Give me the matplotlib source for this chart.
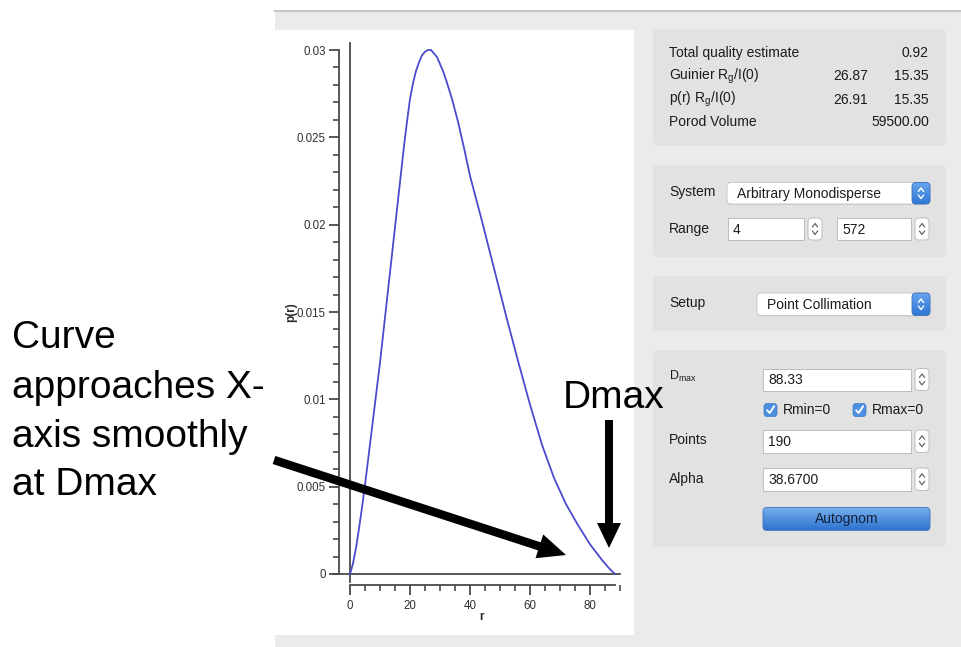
import matplotlib
matplotlib.use("Agg")
import matplotlib.pyplot as plt
import numpy as np
from matplotlib.patches import FancyBboxPatch, Rectangle, FancyArrow
from matplotlib.ticker import FixedLocator, FixedFormatter, MultipleLocator

plt.rcParams['font.family'] = ['Liberation Sans', 'DejaVu Sans']
plt.rcParams['mathtext.default'] = 'regular'

# ---------------- data: pair distance distribution p(r) ----------------
r_vals = [0, 1, 2, 3, 4, 5, 6, 7, 8, 10, 12, 14, 16, 18, 19, 20, 21, 22, 23,
          24, 25, 26, 27, 28, 29, 30, 31, 32, 34, 36, 38, 40, 44, 48, 52, 56,
          60, 64, 68, 72, 76, 80, 84, 86.5, 88.33]
p_vals = [0, 0.0006, 0.0015, 0.0026, 0.0038, 0.0051, 0.0065, 0.0079, 0.0093,
          0.0121, 0.0152, 0.0183, 0.0214, 0.0245, 0.0259, 0.0272, 0.0281, 0.0288,
          0.0293, 0.0297, 0.0299, 0.0300, 0.0300, 0.0298, 0.0296, 0.0292, 0.0288,
          0.0283, 0.0272, 0.0259, 0.0244, 0.0228, 0.0202, 0.0175, 0.0148, 0.0122,
          0.0097, 0.0074, 0.0055, 0.0040, 0.0028, 0.0017, 0.0008, 0.0003, 0]
d_max = 88.33

y_ticks = [0, 0.005, 0.01, 0.015, 0.02, 0.025, 0.03]
y_tick_labels = ['0', '0.005', '0.01', '0.015', '0.02', '0.025', '0.03']
x_ticks = [0, 20, 40, 60, 80]
x_tick_labels = ['0', '20', '40', '60', '80']

# ---------------- side panel contents ----------------
stats_labels = ['Total quality estimate', 'Guinier $R_g$/I(0)',
                'p(r) $R_g$/I(0)', 'Porod Volume']
stats_col1 = ['', '26.87', '26.91', '']
stats_col2 = ['0.92', '15.35', '15.35', '59500.00']
system_choice = 'Arbitrary Monodisperse'
range_values = ['4', '572']
setup_choice = 'Point Collimation'
dmax_text = '88.33'
points_text = '190'
alpha_text = '38.6700'
check_labels = ['Rmin=0', 'Rmax=0']

note_lines = ['Curve', 'approaches X-', 'axis smoothly', 'at Dmax']

W, H = 962, 647
fig = plt.figure(figsize=(W / 100, H / 100), dpi=100)


def px_axes(label, z):
    a = fig.add_axes([0, 0, 1, 1], label=label, zorder=z)
    a.set_xlim(0, W)
    a.set_ylim(H, 0)
    a.set_autoscale_on(False)
    a.axis('off')
    return a


ui = px_axes('ui', 0)

TXT = '#1c1c1c'
PANEL = '#ebebeb'
BOX = '#e2e2e2'

# window background
ui.add_patch(Rectangle((275, 11), W - 275, H - 11, fc=PANEL, ec='none', zorder=0))
ui.plot([275, W], [10.5, 10.5], color='#c6c6c6', lw=1.5, zorder=1)
ui.add_patch(Rectangle((268, 30), 634 - 268, 635 - 30, fc='white', ec='none', zorder=0.5))


def rbox(x0, y0, x1, y1, fc, ec='none', lw=0.0, r=5, z=1):
    p = FancyBboxPatch((x0, y0), x1 - x0, y1 - y0,
                       boxstyle=f'round,pad=0,rounding_size={r}',
                       fc=fc, ec=ec, lw=lw, zorder=z)
    ui.add_patch(p)
    return p


def gradient_box(x0, y0, x1, y1, top, bottom, r=4, z=3, ec='#3a6fb8'):
    p = rbox(x0, y0, x1, y1, fc='none', ec=ec, lw=0.6, r=r, z=z + 0.1)
    t = np.array(matplotlib.colors.to_rgb(top))
    b = np.array(matplotlib.colors.to_rgb(bottom))
    f = np.linspace(0, 1, 32)[:, None, None]
    img = t * (1 - f) + b * f
    im = ui.imshow(img, extent=(x0, x1, y1, y0), origin='upper',
                   aspect='auto', zorder=z, interpolation='bilinear')
    im.set_clip_path(p)


def chevrons(cx, cy, color, half=3.0, gap=3.5, h=2.5, lw=1.1, z=5):
    ui.plot([cx - half, cx, cx + half], [cy - gap + h, cy - gap - h + 0.5, cy - gap + h],
            color=color, lw=lw, zorder=z, solid_capstyle='round')
    ui.plot([cx - half, cx, cx + half], [cy + gap - h, cy + gap + h - 0.5, cy + gap - h],
            color=color, lw=lw, zorder=z, solid_capstyle='round')


def field(x0, y0, x1, y1, text):
    ui.add_patch(Rectangle((x0, y0 + 1), x1 - x0, y1 - y0, fc='#d4d4d4', ec='none', zorder=2))
    ui.add_patch(Rectangle((x0, y0), x1 - x0, y1 - y0, fc='white', ec='#bdbdbd', lw=0.7, zorder=2.1))
    ui.text(x0 + 5, (y0 + y1) / 2 + 0.5, text, fontsize=10, color=TXT, va='center', ha='left', zorder=3)


def stepper(x0, y0, x1, y1):
    rbox(x0, y0, x1, y1, fc='white', ec='#bdbdbd', lw=0.7, r=4, z=2.2)
    chevrons((x0 + x1) / 2, (y0 + y1) / 2, '#666666', half=2.6, gap=4.0, h=2.0, lw=0.9)


def popup(x0, y0, x1, y1, text):
    rbox(x0, y0 + 1, x1, y1 + 1, fc='#cfcfcf', r=4, z=2)
    rbox(x0, y0, x1, y1, fc='white', ec='#c4c4c4', lw=0.6, r=4, z=2.1)
    gradient_box(x1 - 18, y0, x1, y1, '#68a6ee', '#2f78d6', r=4, z=3)
    chevrons(x1 - 9, (y0 + y1) / 2, 'white', half=2.6, gap=3.8, h=2.0, lw=1.0, z=6)
    ui.text(x0 + 10, (y0 + y1) / 2 + 0.5, text, fontsize=10, color=TXT, va='center', ha='left', zorder=4)


# --- box 1: quality summary
rbox(653, 29, 946, 146, BOX, r=5)
row_y = [53, 76, 99.5, 122.5]
for lab, c1, c2, yy in zip(stats_labels, stats_col1, stats_col2, row_y):
    ui.text(669, yy, lab, fontsize=10, color=TXT, va='center', ha='left', zorder=3)
    if c1:
        ui.text(868, yy, c1, fontsize=10, color=TXT, va='center', ha='right', zorder=3)
    ui.text(929, yy, c2, fontsize=10, color=TXT, va='center', ha='right', zorder=3)

# --- box 2: system / range
rbox(653, 165, 946, 257, BOX, r=5)
ui.text(669, 192, 'System', fontsize=10, color=TXT, va='center', ha='left', zorder=3)
popup(727, 182.5, 930, 204, system_choice)
ui.text(669, 228.5, 'Range', fontsize=10, color=TXT, va='center', ha='left', zorder=3)
field(728, 218, 804, 240, range_values[0])
stepper(808, 218, 822, 240)
field(837, 218, 911, 240, range_values[1])
stepper(915, 218, 929, 240)

# --- box 3: setup
rbox(653, 276, 946, 331, BOX, r=5)
ui.text(669, 303, 'Setup', fontsize=10, color=TXT, va='center', ha='left', zorder=3)
popup(757, 293, 930, 315.5, setup_choice)

# --- box 4: regularisation parameters
rbox(653, 350, 946, 547, BOX, r=5)
ui.text(669, 376, '$D_{max}$', fontsize=9, color=TXT, va='center', ha='left', zorder=3)
field(763, 368.5, 911, 390.5, dmax_text)
stepper(915, 368.5, 929, 390.5)

for cx, lab in zip([770.5, 859.5], check_labels):
    rbox(cx - 6.5, 403.5, cx + 6.5, 416.5, '#4a8fe0', ec='#3c78c4', lw=0.5, r=3, z=3)
    ui.plot([cx - 3.3, cx - 0.8, cx + 3.6], [410.3, 413.0, 406.2], color='white', lw=1.4,
            zorder=4, solid_capstyle='round', solid_joinstyle='round')
    ui.text(cx + 12, 410.5, lab, fontsize=10, color=TXT, va='center', ha='left', zorder=3)

ui.text(669, 440, 'Points', fontsize=10, color=TXT, va='center', ha='left', zorder=3)
field(763, 430, 911, 452.5, points_text)
stepper(915, 430, 929, 452.5)
ui.text(669, 478.5, 'Alpha', fontsize=10, color=TXT, va='center', ha='left', zorder=3)
field(763, 468, 911, 490.5, alpha_text)
stepper(915, 468, 929, 490.5)

gradient_box(763, 507.5, 930, 530.5, '#78b0ee', '#2f74d0', r=4, z=3)
ui.text(846.5, 519.5, 'Autognom', fontsize=10, color='#10213a', va='center', ha='center', zorder=5)

# ---------------- p(r) plot ----------------
L, R, T, B = 350, 620, 43, 574
ax = fig.add_axes([L / W, (H - B) / H, (R - L) / W, (B - T) / H], zorder=1)
ax.patch.set_alpha(0)
ax.set_xlim(0, (R - L) / 3.0)
ax.set_ylim(0, 0.03 * (B - T) / (B - 50))

AX_C = '#4a4a4a'
for s in ('top', 'right'):
    ax.spines[s].set_visible(False)
ax.spines['left'].set_position(('outward', 8))
ax.spines['left'].set_bounds(0, 0.03)
ax.spines['bottom'].set_position(('outward', 8))
ax.spines['bottom'].set_bounds(0, d_max)
for s in ('left', 'bottom'):
    ax.spines[s].set_color(AX_C)
    ax.spines[s].set_linewidth(1.3)

ax.yaxis.set_major_locator(FixedLocator(y_ticks))
ax.yaxis.set_major_formatter(FixedFormatter(y_tick_labels))
ax.yaxis.set_minor_locator(MultipleLocator(0.001))
ax.xaxis.set_major_locator(FixedLocator(x_ticks))
ax.xaxis.set_major_formatter(FixedFormatter(x_tick_labels))
ax.xaxis.set_minor_locator(MultipleLocator(5))

ax.tick_params(axis='both', which='major', length=7, width=1.3, color=AX_C,
               labelsize=8.3, labelcolor='#303030', pad=2.5)
ax.tick_params(axis='both', which='minor', length=4.5, width=1.2, color=AX_C)
ax.tick_params(axis='x', which='major', pad=4)

# zero lines of the data frame
ytop = ax.get_ylim()[1]
ax.plot([-17 / 3.0, 90], [0, 0], color=AX_C, lw=1.3, clip_on=False, zorder=2)
ax.plot([0, 0], [ytop, -0.03 * 8 / 524], color=AX_C, lw=1.3, clip_on=False, zorder=2)

ax.plot(r_vals, p_vals, color='#4b4bcf', lw=1.3, clip_on=False, zorder=3,
        solid_joinstyle='round')

fig.text(482 / W, 1 - 617 / H, 'r', fontsize=8.5, fontweight='bold', color='#2a2a2a',
         ha='center', va='center')
fig.text(291 / W, 1 - 312 / H, 'p(r)', fontsize=8.5, fontweight='bold', color='#2a2a2a',
         ha='center', va='center', rotation=90)

# ---------------- annotation overlay ----------------
top = px_axes('top', 3)
for line, yb in zip(note_lines, [348, 398, 447, 495]):
    top.text(12, yb, line, fontsize=28, color='black', ha='left', va='baseline')
top.text(563, 408, 'Dmax', fontsize=28, color='black', ha='left', va='baseline')

top.add_patch(FancyArrow(274, 460, 566 - 274, 555 - 460, width=8.5, head_width=25,
                         head_length=28, length_includes_head=True,
                         fc='black', ec='black', lw=0))
top.add_patch(FancyArrow(609, 420, 0, 548 - 420, width=8, head_width=24,
                         head_length=25, length_includes_head=True,
                         fc='black', ec='black', lw=0))

fig.savefig('out.png', dpi=100)
